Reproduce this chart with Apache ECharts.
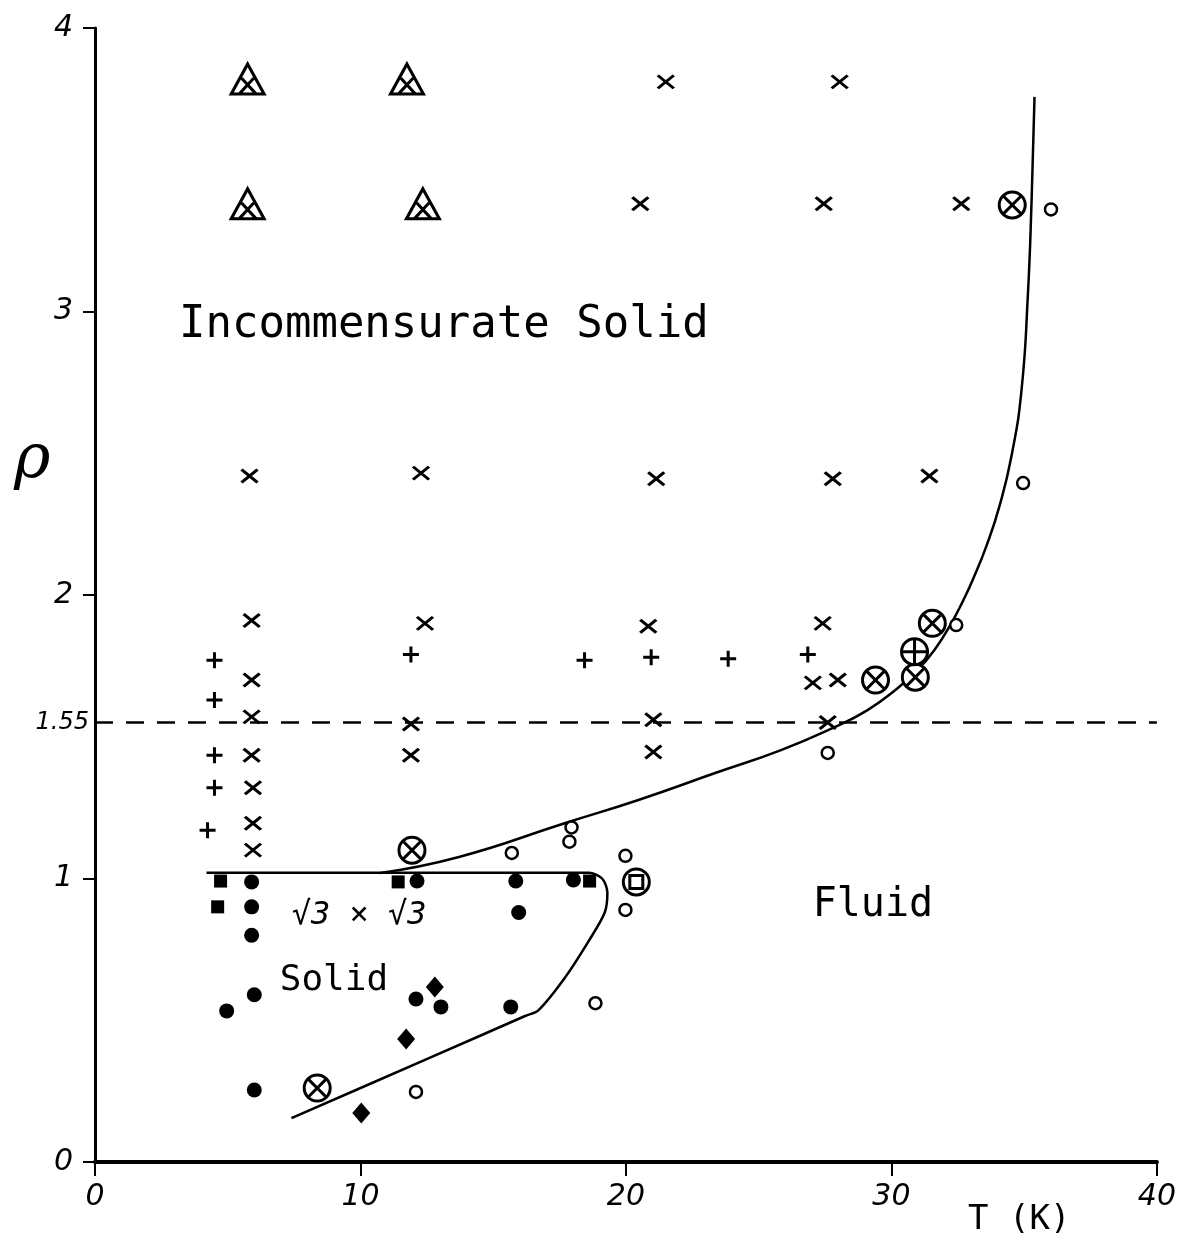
<!DOCTYPE html>
<html>
<head>
<meta charset="utf-8">
<script src="https://cdn.jsdelivr.net/npm/echarts@6/dist/echarts.min.js"></script>
<style>html,body{margin:0;padding:0;background:#fff}#c{width:1179px;height:1242px}</style>
</head>
<body>
<div id="c"></div>
<script>
// ---- data (T in K, rho) ----
const xTicks = [0, 10, 20, 30, 40];
const yTicks = [0, 1, 2, 3, 4];
const crossPts = [
  [21.5,3.81],[28.05,3.81],
  [20.54,3.38],[27.45,3.38],[32.63,3.38],
  [5.82,2.42],[12.28,2.43],[21.14,2.41],[27.79,2.41],[31.43,2.42],
  [5.9,1.91],[12.43,1.90],[20.84,1.89],[27.41,1.90],
  [5.9,1.70],[27.04,1.69],[27.98,1.70],
  [5.9,1.57],[11.9,1.545],[21.03,1.56],[27.6,1.55],
  [5.9,1.435],[11.9,1.435],[21.03,1.446],
  [5.95,1.32],[5.95,1.195],[5.95,1.10]
];
const plusPts = [
  [4.5,1.77],[4.5,1.63],[4.5,1.435],[4.5,1.32],[4.24,1.17],
  [11.9,1.79],[18.44,1.77],[20.95,1.78],[23.85,1.775],[26.85,1.79]
];
const triCrossPts = [[5.75,3.82],[11.75,3.82],[5.75,3.38],[12.35,3.38]];
const circCrossPts = [[8.37,0.261],[11.94,1.10],[29.4,1.70],[30.9,1.71],[31.54,1.90],[34.55,3.376]];
const circPlusPts = [[30.87,1.80]];
const circSquarePts = [[20.39,0.988]];
const openCirclePts = [
  [15.7,1.09],[17.95,1.18],[17.87,1.13],[19.98,1.08],[19.98,0.889],[18.85,0.56],
  [12.09,0.247],[27.6,1.443],[32.44,1.894],[34.96,2.395],[36.01,3.36]
];
const filledCirclePts = [
  [5.9,0.988],[5.9,0.90],[5.9,0.80],[6.0,0.59],[4.96,0.533],[6.0,0.254],
  [12.13,0.991],[15.85,0.991],[15.96,0.88],[18.02,0.995],
  [12.09,0.575],[13.03,0.547],[15.66,0.547]
];
const squarePts = [[4.73,0.991],[4.62,0.90],[11.42,0.988],[18.63,0.991]];
const diamondPts = [[12.8,0.617],[11.72,0.434],[10.03,0.173]];
const upperBoundary = [
  [10.7,1.019],[13.71,1.076],[17.72,1.196],[20.47,1.277],[23.36,1.372],[25.84,1.453],
  [27.86,1.534],[29.1,1.594],[30.15,1.665],[30.98,1.735],[31.62,1.806],[32.26,1.901],
  [32.71,1.982],[33.06,2.053],[33.59,2.176],[34.08,2.317],[34.53,2.494],[34.90,2.723],
  [35.13,3.041],[35.28,3.393],[35.39,3.757]
];
const lowerBoundary = [
  [4.2,1.02],[10.7,1.02],[18.6,1.02],[19.1,1.0],[19.3,0.95],[19.2,0.88],
  [18.6,0.78],[17.7,0.65],[16.7,0.535],[16.2,0.515],[12.6,0.367],[7.4,0.155]
];
const densityLine = 1.55;

// ---- chart ----
const chart = echarts.init(document.getElementById('c'), null, {renderer: 'canvas'});
const INK = '#000';
const HAND = '"DejaVu Sans Mono", monospace';
const CIRCLE = 'M0,-10 A10,10 0 1,1 0,10 A10,10 0 1,1 0,-10 Z ';
const sym = {
  cross: 'path://M-1,-1 L1,1 M1,-1 L-1,1',
  plus: 'path://M0,-1 L0,1 M-1,0 L1,0',
  triCross: 'path://M0,-16 L17.5,16 L-17.5,16 Z M-6.5,-1 L9,16 M6.5,-1 L-9,16',
  circCross: 'path://' + CIRCLE + 'M-7.07,-7.07 L7.07,7.07 M7.07,-7.07 L-7.07,7.07',
  circPlus: 'path://' + CIRCLE + 'M-10,0 L10,0 M0,-10 L0,10',
  circSquare: 'path://' + CIRCLE + 'M-5,-5 L5,-5 L5,5 L-5,5 Z'
};
function scat(name, data, symbol, size, style, z) {
  return {
    name, type: 'scatter', data, symbol, symbolSize: size, z: z || 5,
    itemStyle: Object.assign({color: INK, borderColor: INK, borderWidth: 0, opacity: 1}, style),
    emphasis: {disabled: true}, silent: true
  };
}
const option = {
  animation: false,
  backgroundColor: '#fff',
  grid: {left: 95, right: 19, top: 28, bottom: 80, containLabel: false},
  xAxis: {
    type: 'value', min: xTicks[0], max: xTicks[xTicks.length - 1], interval: 10,
    axisLine: {show: true, onZero: false, lineStyle: {color: INK, width: 4}},
    axisTick: {show: true, length: 14, lineStyle: {color: INK, width: 2}},
    splitLine: {show: false},
    axisLabel: {color: INK, fontSize: 30, fontStyle: 'italic', fontFamily: 'DejaVu Sans', margin: 20,
      formatter: v => xTicks.includes(v) ? String(v) : ''}
  },
  yAxis: {
    type: 'value', min: yTicks[0], max: yTicks[yTicks.length - 1], interval: 1,
    axisLine: {show: true, onZero: false, lineStyle: {color: INK, width: 3}},
    axisTick: {show: true, length: 12, lineStyle: {color: INK, width: 2}},
    splitLine: {show: false},
    axisLabel: {color: INK, fontSize: 30, fontStyle: 'italic', fontFamily: 'DejaVu Sans', margin: 22,
      formatter: v => yTicks.includes(v) ? String(v) : ''}
  },
  series: [
    {
      name: 'upper', type: 'line', data: upperBoundary, showSymbol: false, smooth: 0.5, z: 2,
      lineStyle: {color: INK, width: 2.5}, silent: true,
      markLine: {
        silent: true, symbol: 'none', animation: false,
        lineStyle: {color: INK, width: 2.5, type: [18, 13]},
        label: {show: true, position: 'start', formatter: String(densityLine), color: INK,
          fontSize: 24, fontStyle: 'italic', fontFamily: 'DejaVu Sans', distance: 6},
        data: [{yAxis: densityLine}]
      }
    },
    {
      name: 'lower', type: 'line', data: lowerBoundary, showSymbol: false, smooth: 0.3, z: 2,
      lineStyle: {color: INK, width: 2.5}, silent: true
    },
    scat('cross', crossPts, sym.cross, [16, 13], {color: 'none', borderWidth: 3}),
    scat('plus', plusPts, sym.plus, 16, {color: 'none', borderWidth: 3}),
    scat('triCross', triCrossPts, sym.triCross, [33, 30], {color: '#fff', borderWidth: 3}),
    scat('circCross', circCrossPts, sym.circCross, 26, {color: '#fff', borderWidth: 3}),
    scat('circPlus', circPlusPts, sym.circPlus, 26, {color: '#fff', borderWidth: 3}),
    scat('circSquare', circSquarePts, sym.circSquare, 26, {color: '#fff', borderWidth: 3}),
    scat('open', openCirclePts, 'circle', 12, {color: '#fff', borderWidth: 2.5}),
    scat('filled', filledCirclePts, 'circle', 15, {}),
    scat('square', squarePts, 'rect', 13, {}),
    scat('diamond', diamondPts, 'diamond', [18, 21], {}),
    {
      name: 'annotations', type: 'scatter', symbolSize: 0, silent: true, z: 6,
      itemStyle: {opacity: 1, color: INK},
      label: {show: true, position: 'inside', color: INK, opacity: 1, fontFamily: HAND,
        formatter: p => p.data.text},
      data: [
        {value: [13.14, 2.95], text: 'Incommensurate Solid', label: {fontSize: 44}},
        {value: [29.3, 0.906], text: 'Fluid', label: {fontSize: 40}},
        {value: [9.95, 0.87], text: '\u221A3 \u00D7 \u221A3', label: {fontSize: 32, fontStyle: 'italic'}},
        {value: [9.0, 0.64], text: 'Solid', label: {fontSize: 36}}
      ]
    }
  ],
  graphic: [
    {type: 'text', left: 14, top: 430, style: {text: '\u03C1', fontSize: 62, fontStyle: 'italic',
      fontFamily: 'DejaVu Serif', fill: INK}},
    {type: 'text', left: 968, top: 1203, style: {text: 'T (K)', fontSize: 34, fontFamily: HAND, fill: INK}}
  ]
};
chart.setOption(option);
</script>
</body>
</html>
